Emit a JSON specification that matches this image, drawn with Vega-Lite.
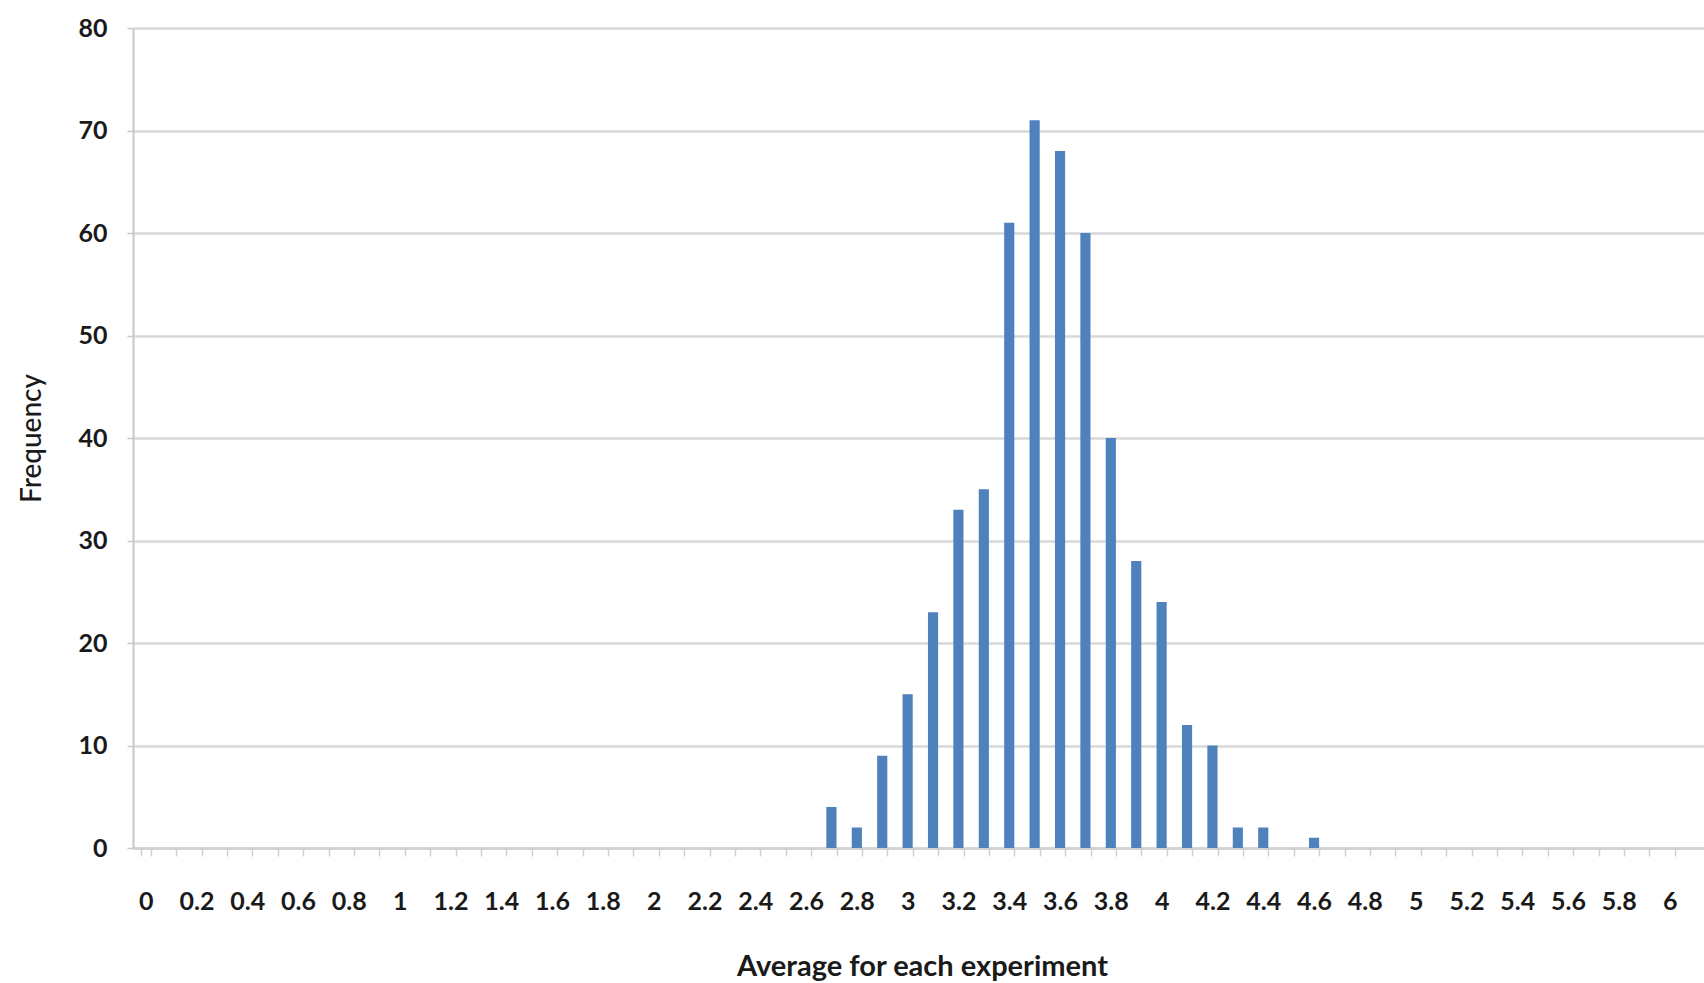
{
  "$schema": "https://vega.github.io/schema/vega-lite/v6.json",
  "width": 1571,
  "height": 820,
  "autosize": {"type": "none"},
  "padding": {"left": 133, "top": 28, "right": 0, "bottom": 135},
  "background": "white",
  "config": {"view": {"stroke": null}, "font": "Lato"},
  "data": {
    "values": [
      {"avg": 0, "freq": 0}, {"avg": 0.1, "freq": 0}, {"avg": 0.2, "freq": 0}, {"avg": 0.3, "freq": 0},
      {"avg": 0.4, "freq": 0}, {"avg": 0.5, "freq": 0}, {"avg": 0.6, "freq": 0}, {"avg": 0.7, "freq": 0},
      {"avg": 0.8, "freq": 0}, {"avg": 0.9, "freq": 0}, {"avg": 1, "freq": 0}, {"avg": 1.1, "freq": 0},
      {"avg": 1.2, "freq": 0}, {"avg": 1.3, "freq": 0}, {"avg": 1.4, "freq": 0}, {"avg": 1.5, "freq": 0},
      {"avg": 1.6, "freq": 0}, {"avg": 1.7, "freq": 0}, {"avg": 1.8, "freq": 0}, {"avg": 1.9, "freq": 0},
      {"avg": 2, "freq": 0}, {"avg": 2.1, "freq": 0}, {"avg": 2.2, "freq": 0}, {"avg": 2.3, "freq": 0},
      {"avg": 2.4, "freq": 0}, {"avg": 2.5, "freq": 0}, {"avg": 2.6, "freq": 0}, {"avg": 2.7, "freq": 4},
      {"avg": 2.8, "freq": 2}, {"avg": 2.9, "freq": 9}, {"avg": 3, "freq": 15}, {"avg": 3.1, "freq": 23},
      {"avg": 3.2, "freq": 33}, {"avg": 3.3, "freq": 35}, {"avg": 3.4, "freq": 61}, {"avg": 3.5, "freq": 71},
      {"avg": 3.6, "freq": 68}, {"avg": 3.7, "freq": 60}, {"avg": 3.8, "freq": 40}, {"avg": 3.9, "freq": 28},
      {"avg": 4, "freq": 24}, {"avg": 4.1, "freq": 12}, {"avg": 4.2, "freq": 10}, {"avg": 4.3, "freq": 2},
      {"avg": 4.4, "freq": 2}, {"avg": 4.5, "freq": 0}, {"avg": 4.6, "freq": 1}, {"avg": 4.7, "freq": 0},
      {"avg": 4.8, "freq": 0}, {"avg": 4.9, "freq": 0}, {"avg": 5, "freq": 0}, {"avg": 5.1, "freq": 0},
      {"avg": 5.2, "freq": 0}, {"avg": 5.3, "freq": 0}, {"avg": 5.4, "freq": 0}, {"avg": 5.5, "freq": 0},
      {"avg": 5.6, "freq": 0}, {"avg": 5.7, "freq": 0}, {"avg": 5.8, "freq": 0}, {"avg": 5.9, "freq": 0},
      {"avg": 6, "freq": 0}
    ]
  },
  "mark": {"type": "bar", "color": "#4F81BD"},
  "encoding": {
    "x": {
      "field": "avg",
      "type": "ordinal",
      "sort": "ascending",
      "scale": {"paddingInner": 0.6, "paddingOuter": 0.725, "align": 0.205},
      "axis": {
        "title": "Average for each experiment",
        "labelAngle": 0,
        "tickBand": "extent",
        "labelExpr": "round(datum.value*10) % 2 == 0 ? datum.label : ''",
        "labelOverlap": false,
        "grid": false,
        "domainColor": "#d0d0d0",
        "domainWidth": 2.5,
        "tickColor": "#d0d0d0",
        "tickSize": 8,
        "tickWidth": 1.5,
        "labelFont": "Lato",
        "labelFontWeight": "bold",
        "labelFontSize": 25,
        "labelColor": "#1a1a1a",
        "labelPadding": 33,
        "titleFont": "Lato",
        "titleFontSize": 29,
        "titleFontWeight": "bold",
        "titleColor": "#1a1a1a",
        "titleX": 789,
        "titleY": 118,
        "titleBaseline": "middle",
        "titleAlign": "center"
      }
    },
    "y": {
      "field": "freq",
      "type": "quantitative",
      "scale": {"domain": [0, 80], "nice": false},
      "axis": {
        "title": "Frequency",
        "values": [0, 10, 20, 30, 40, 50, 60, 70, 80],
        "grid": true,
        "gridColor": "#d9d9d9",
        "gridWidth": 2.5,
        "domainColor": "#c8c8c8",
        "domainWidth": 2,
        "tickColor": "#c8c8c8",
        "tickSize": 6,
        "tickWidth": 1.5,
        "labelFont": "Lato",
        "labelFontWeight": "bold",
        "labelFontSize": 25,
        "labelColor": "#1a1a1a",
        "labelPadding": 20,
        "titleFont": "Lato",
        "titleFontSize": 28,
        "titleFontWeight": 500,
        "titleColor": "#1a1a1a",
        "titleAngle": -90,
        "titleX": -101,
        "titleY": 410,
        "titleBaseline": "middle",
        "titleAlign": "center"
      }
    }
  }
}
